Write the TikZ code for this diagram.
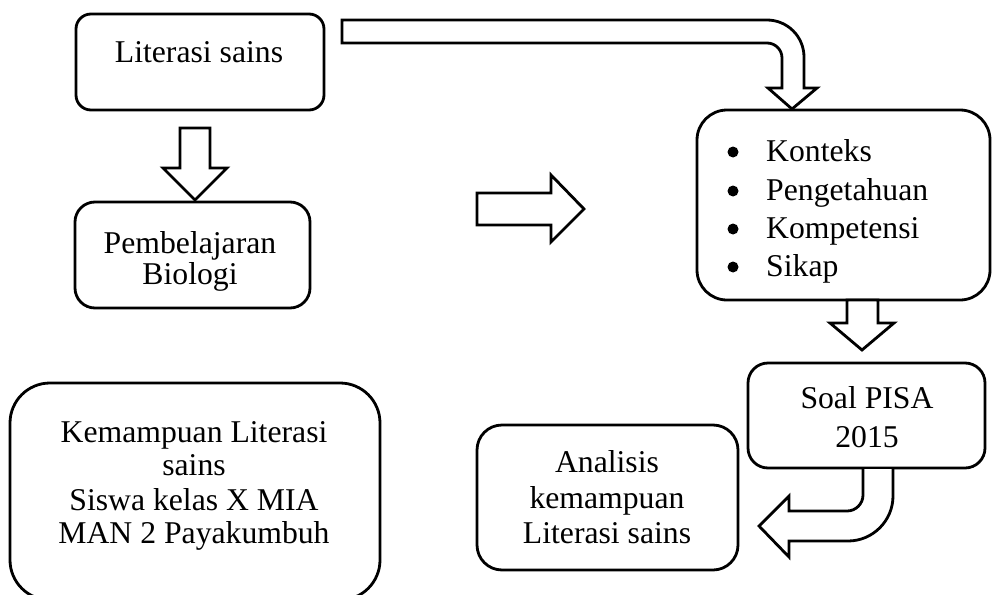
\documentclass[tikz,border=0pt]{standalone}
\usepackage{fontspec}
\setmainfont{Liberation Serif}
\tikzset{
  bx/.style={draw, line width=2.8pt, rounded corners=#1, inner sep=0pt, fill=white},
  txt/.style={font=\fontsize{31.7}{38}\selectfont, inner sep=0pt, anchor=base},
  ltxt/.style={font=\fontsize{31.7}{38}\selectfont, inner sep=0pt, anchor=base west},
  blk/.style={draw, line width=2.8pt, fill=white, line join=miter},
  dot/.style={circle, fill=black, inner sep=0pt, minimum size=11pt}
}
\begin{document}
\begin{tikzpicture}[x=1pt,y=-1pt]
\useasboundingbox (0,0) rectangle (992,594);
\clip (0,0) rectangle (992,594);
% boxes
\node[bx=15pt, minimum width=248pt, minimum height=96pt] (lit) at (200,62) {};
\node[bx=20pt, minimum width=235pt, minimum height=106pt] (pem) at (192.5,255) {};
\node[bx=40pt, minimum width=370pt, minimum height=217pt] (kem) at (195,491.5) {};
\node[bx=30pt, minimum width=293pt, minimum height=190pt] (bul) at (843.5,205) {};
\node[bx=20pt, minimum width=237pt, minimum height=105pt] (soal) at (866.5,415.5) {};
\node[bx=25pt, minimum width=261pt, minimum height=145pt] (ana) at (607.5,497.5) {};
% texts
\node[txt] (t1) at (199,63) {Literasi sains};
\node[txt] (t2a) at (190,253) {Pembelajaran};
\node[txt] (t2b) at (190,284) {Biologi};
\node[txt] (t3a) at (194,442) {Kemampuan Literasi};
\node[txt] (t3b) at (194,475) {sains};
\node[txt] (t3c) at (194,510) {Siswa kelas X MIA};
\node[txt] (t3d) at (194,543) {MAN 2 Payakumbuh};
\node[txt] (t4a) at (607,472) {Analisis};
\node[txt] (t4b) at (607,508) {kemampuan};
\node[txt] (t4c) at (607,543) {Literasi sains};
\node[txt] (t5a) at (867,408) {Soal PISA};
\node[txt] (t5b) at (867,447) {2015};
\node[dot] (d1) at (733,152) {};
\node[dot] (d2) at (733,191) {};
\node[dot] (d3) at (733,229) {};
\node[dot] (d4) at (733,267) {};
\node[ltxt] (b1) at (766,161) {Konteks};
\node[ltxt] (b2) at (766,200) {Pengetahuan};
\node[ltxt] (b3) at (766,238) {Kompetensi};
\node[ltxt] (b4) at (766,276) {Sikap};
% block arrows
\draw[blk] (180,128) -- (210,128) -- (210,168) -- (227,168) -- (195,200) -- (163,168) -- (180,168) -- cycle;
\draw[blk] (477,193) -- (551,193) -- (551,175) -- (584,209) -- (551,242) -- (551,225) -- (477,225) -- cycle;
\draw[blk] (847,300) -- (878,300) -- (878,323) -- (894,323) -- (862,350) -- (830,323) -- (847,323) -- cycle;
\draw[blk] (342,20) -- (767,20) .. controls (787.4,20) and (804,36.6) .. (804,57) -- (804,88) -- (817,88) -- (792,109) -- (768,88) -- (782,88) -- (782,58) .. controls (782,49.7) and (775.3,43) .. (767,43) -- (342,43) -- cycle;
\draw[blk] (893,469) -- (893,496) .. controls (893,520.8) and (872.8,541) .. (848,541) -- (789,541) -- (789,557) -- (759,526) -- (789,496) -- (789,511) -- (847,511) .. controls (855.8,511) and (863,503.8) .. (863,495) -- (863,469);
\end{tikzpicture}
\end{document}
